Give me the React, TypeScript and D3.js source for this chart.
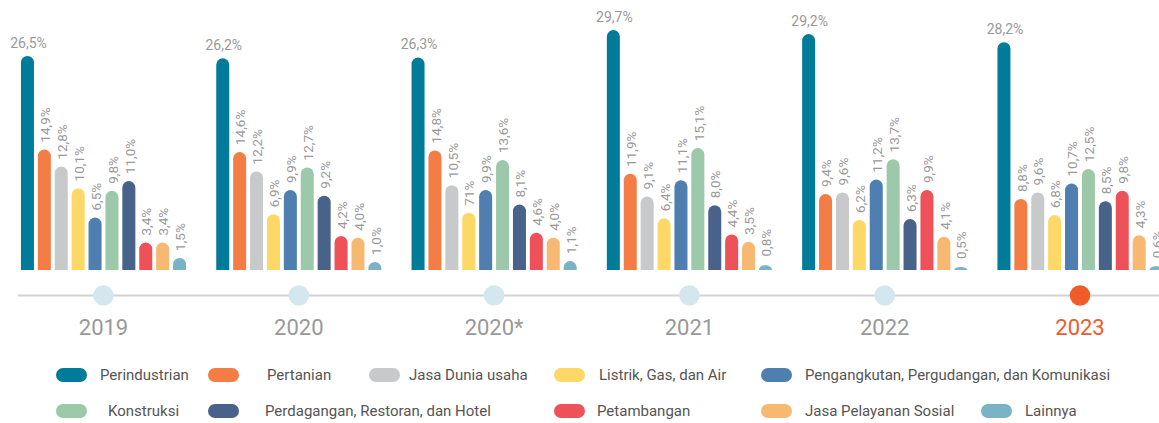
import { useEffect, useRef } from 'react';
import * as d3 from 'd3';

const years = ['2019', '2020', '2020*', '2021', '2022', '2023'];

const sectors = [
  'Perindustrian',
  'Pertanian',
  'Jasa Dunia usaha',
  'Listrik, Gas, dan Air',
  'Pengangkutan, Pergudangan, dan Komunikasi',
  'Konstruksi',
  'Perdagangan, Restoran, dan Hotel',
  'Petambangan',
  'Jasa Pelayanan Sosial',
  'Lainnya',
];

const colors = [
  '#007c9a', '#f47c45', '#c8c9cb', '#fdd866', '#4f7eb0',
  '#9cc9a9', '#486289', '#ee5158', '#f7b871', '#79b3c5',
];

// share per sector, one array per year (same order as sectors)
const values2019 = [26.5, 14.9, 12.8, 10.1, 6.5, 9.8, 11.0, 3.4, 3.4, 1.5];
const values2020 = [26.2, 14.6, 12.2, 6.9, 9.9, 12.7, 9.2, 4.2, 4.0, 1.0];
const values2020b = [26.3, 14.8, 10.5, 7.1, 9.9, 13.6, 8.1, 4.6, 4.0, 1.1];
const values2021 = [29.7, 11.9, 9.1, 6.4, 11.1, 15.1, 8.0, 4.4, 3.5, 0.8];
const values2022 = [29.2, 9.4, 9.6, 6.2, 11.2, 13.7, 6.3, 9.9, 4.1, 0.5];
const values2023 = [28.2, 8.8, 9.6, 6.8, 10.7, 12.5, 8.5, 9.8, 4.3, 0.6];

const seriesByYear = [values2019, values2020, values2020b, values2021, values2022, values2023];

// the source prints this one as "71%"
const labelOverrides: Record<string, string> = { '2020*-3': '71%' };

// legend layout: [sector index, swatch x, text x, row]
const legendLayout: [number, number, number, number][] = [
  [0, 56, 100, 0], [1, 208, 267, 0], [2, 369, 409, 0], [3, 554, 599, 0], [4, 761, 805, 0],
  [5, 56, 108, 1], [6, 208, 265, 1], [7, 554, 597, 1], [8, 761, 805, 1], [9, 981, 1025, 1],
];

const W = 1159;
const H = 423;
const highlight = '#f15a29';

const fmt = (v: number) => `${v.toFixed(1).replace('.', ',')}%`;

export default function App() {
  const svgRef = useRef<SVGSVGElement>(null);

  useEffect(() => {
    document.body.style.margin = '0';
    if (!svgRef.current) return;
    const svg = d3.select(svgRef.current);
    svg.selectAll('*').remove();

    const font = 'Roboto, "Noto Sans", sans-serif';
    const baseline = 270;

    const groupX = d3.scalePoint<string>().domain(years).range([103.5, 1080]);
    const barX = d3.scaleBand<string>()
      .domain(sectors)
      .range([-84.5, 84.5])
      .paddingInner(0.23)
      .paddingOuter(0.115);
    const y = d3.scaleLinear().domain([0, 30]).range([baseline, baseline - 30 * 8.08]);
    const bw = barX.bandwidth();
    const r = bw / 2;

    years.forEach((yr, gi) => {
      const g = svg.append('g').attr('transform', `translate(${groupX(yr)},0)`);
      seriesByYear[gi].forEach((v, si) => {
        const x0 = barX(sectors[si]) as number;
        const top = y(v);
        const h = baseline - top;
        const p = d3.path();
        if (h > r) {
          p.moveTo(x0, baseline);
          p.lineTo(x0, top + r);
          p.arc(x0 + r, top + r, r, Math.PI, 0);
          p.lineTo(x0 + bw, baseline);
          p.closePath();
        } else {
          p.moveTo(x0, baseline);
          p.bezierCurveTo(x0, top, x0 + bw, top, x0 + bw, baseline);
          p.closePath();
        }
        g.append('path').attr('d', p.toString()).attr('fill', colors[si]);

        const cx = x0 + bw / 2;
        const label = labelOverrides[`${yr}-${si}`] ?? fmt(v);
        if (si === 0) {
          g.append('text')
            .attr('x', cx + 1)
            .attr('y', top - 8)
            .attr('text-anchor', 'middle')
            .attr('font-family', font)
            .attr('font-size', 14)
            .attr('fill', '#999')
            .text(label);
        } else {
          g.append('text')
            .attr('transform', `translate(${cx + 1},${top - 7}) rotate(-90)`)
            .attr('dy', '0.35em')
            .attr('font-family', font)
            .attr('font-size', 13.5)
            .attr('fill', '#999')
            .text(label);
        }
      });
    });

    // timeline
    svg.append('line')
      .attr('x1', 18).attr('x2', W)
      .attr('y1', 295.5).attr('y2', 295.5)
      .attr('stroke', '#d2d2d2')
      .attr('stroke-width', 2);

    years.forEach((yr, gi) => {
      const last = gi === years.length - 1;
      svg.append('circle')
        .attr('cx', groupX(yr) as number)
        .attr('cy', 295.5)
        .attr('r', 10.3)
        .attr('fill', last ? highlight : '#d5e7ee');
      svg.append('text')
        .attr('x', groupX(yr) as number)
        .attr('y', 335)
        .attr('text-anchor', 'middle')
        .attr('font-family', font)
        .attr('font-size', 22)
        .attr('fill', last ? highlight : '#999')
        .text(yr);
    });

    // legend
    const rowY = [375, 411];
    legendLayout.forEach(([si, sx, tx, row]) => {
      const cy = rowY[row];
      svg.append('rect')
        .attr('x', sx).attr('y', cy - 7)
        .attr('width', 31).attr('height', 14)
        .attr('rx', 7)
        .attr('fill', colors[si]);
      svg.append('text')
        .attr('x', tx).attr('y', cy)
        .attr('dy', '0.35em')
        .attr('font-family', font)
        .attr('font-size', 15)
        .attr('fill', '#555')
        .text(sectors[si]);
    });
  }, []);

  return <svg ref={svgRef} width={W} height={H} style={{ display: 'block', background: '#fff' }} />;
}
